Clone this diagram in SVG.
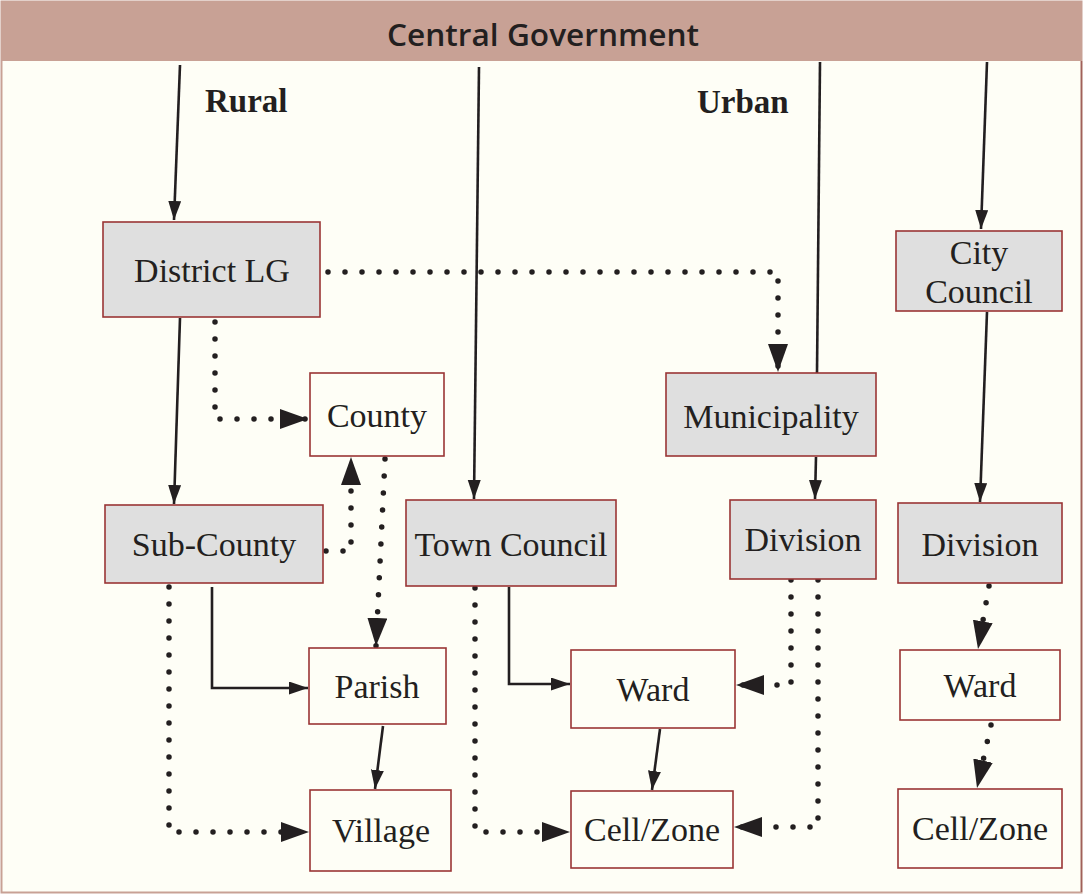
<svg xmlns="http://www.w3.org/2000/svg" width="1083" height="895" viewBox="0 0 1083 895">
<style>
.box{stroke:#9a3535;stroke-width:1.6}
.g{fill:#dfdfdf}
.w{fill:#fefef6}
.t{font-family:"Liberation Serif","Times New Roman",serif;font-size:34px;fill:#231f20;text-anchor:middle}
.b{font-family:"Liberation Serif","Times New Roman",serif;font-size:33px;font-weight:bold;fill:#231f20}
.s{fill:none;stroke:#231f20;stroke-width:2.6}
.d{fill:none;stroke:#231f20;stroke-width:5.5;stroke-linecap:round;stroke-dasharray:0 17}
</style>
<defs>
<marker id="as" markerUnits="userSpaceOnUse" markerWidth="20" markerHeight="14" refX="19" refY="6.5" orient="auto"><path d="M0,0 L19,6.5 L0,13 z" fill="#231f20"/></marker>
<marker id="ad" markerUnits="userSpaceOnUse" markerWidth="30" markerHeight="22" refX="28" refY="10" orient="auto"><path d="M0,0 L28,10 L0,20 z" fill="#231f20"/></marker>
</defs>
<rect x="1.5" y="1.5" width="1080" height="891" fill="#fefef6" stroke="#c8a195" stroke-width="2"/>
<line x1="1081.5" y1="61" x2="1081.5" y2="892" stroke="#a0605a" stroke-width="1.5"/>
<g id="header">
<rect x="1.5" y="2" width="1080" height="59" fill="#c8a195"/>
<text x="543" y="46" text-anchor="middle" font-family="'Open Sans','DejaVu Sans',sans-serif" font-size="30" font-weight="600" fill="#231f20" textLength="312" lengthAdjust="spacingAndGlyphs">Central Government</text>
</g>
<text class="b" x="205" y="112">Rural</text>
<text class="b" x="697" y="113">Urban</text>
<g id="connectors">
<path class="s" d="M180,65 L174,220" marker-end="url(#as)"/>
<path class="s" d="M479,67 L474,499" marker-end="url(#as)"/>
<path class="s" d="M820,62 L817,373"/>
<path class="s" d="M987,62 L981,229" marker-end="url(#as)"/>
<path class="d" d="M328,272 L778,272 L778,372" marker-end="url(#ad)"/>
<path class="d" d="M215,322 L215,419 L308,419" marker-end="url(#ad)"/>
<path class="s" d="M180,318 L174,504" marker-end="url(#as)"/>
<path class="d" d="M326,551 L351,551 L351,457" marker-end="url(#ad)"/>
<path class="d" d="M385,459 L376,646" marker-end="url(#ad)"/>
<path class="s" d="M212,587 L212,688 L308,688" marker-end="url(#as)"/>
<path class="d" d="M169,587 L169,832 L309,832" marker-end="url(#ad)"/>
<path class="s" d="M383,726 L375,789" marker-end="url(#as)"/>
<path class="s" d="M509,587 L509,684 L570,684" marker-end="url(#as)"/>
<path class="d" d="M475,588 L475,832 L570,832" marker-end="url(#ad)"/>
<path class="s" d="M660,729 L652,790" marker-end="url(#as)"/>
<path class="s" d="M816,457 L815,499" marker-end="url(#as)"/>
<path class="d" d="M791,580 L791,685 L736,685" marker-end="url(#ad)"/>
<path class="d" d="M818,580 L818,827 L734,827" marker-end="url(#ad)"/>
<path class="s" d="M987,312 L980,502" marker-end="url(#as)"/>
<path class="d" d="M989,586 L978,649" marker-end="url(#ad)"/>
<path class="d" d="M991,725 L977,788" marker-end="url(#ad)"/>
</g>
<g id="district"><rect class="box g" x="103" y="222" width="217" height="95"/><text class="t" x="212" y="282">District LG</text></g>
<g id="county"><rect class="box w" x="310" y="373" width="134" height="83"/><text class="t" x="377" y="427">County</text></g>
<g id="subcounty"><rect class="box g" x="105" y="505" width="218" height="78"/><text class="t" x="214" y="556">Sub-County</text></g>
<g id="towncouncil"><rect class="box g" x="406" y="500" width="210" height="86"/><text class="t" x="511" y="556">Town Council</text></g>
<g id="municipality"><rect class="box g" x="666" y="373" width="210" height="83"/><text class="t" x="771" y="428">Municipality</text></g>
<g id="division1"><rect class="box g" x="730" y="500" width="146" height="79"/><text class="t" x="803" y="551">Division</text></g>
<g id="citycouncil"><rect class="box g" x="896" y="231" width="166" height="80"/><text class="t" x="979" y="264">City</text><text class="t" x="979" y="303">Council</text></g>
<g id="division2"><rect class="box g" x="898" y="503" width="164" height="80"/><text class="t" x="980" y="556">Division</text></g>
<g id="parish"><rect class="box w" x="309" y="648" width="137" height="76"/><text class="t" x="377" y="698">Parish</text></g>
<g id="village"><rect class="box w" x="310" y="790" width="141" height="81"/><text class="t" x="381" y="842">Village</text></g>
<g id="ward1"><rect class="box w" x="571" y="650" width="164" height="78"/><text class="t" x="653" y="701">Ward</text></g>
<g id="cell1"><rect class="box w" x="571" y="791" width="162" height="77"/><text class="t" x="652" y="841">Cell/Zone</text></g>
<g id="ward2"><rect class="box w" x="900" y="650" width="160" height="70"/><text class="t" x="980" y="697">Ward</text></g>
<g id="cell2"><rect class="box w" x="898" y="789" width="164" height="79"/><text class="t" x="980" y="840">Cell/Zone</text></g>
</svg>
